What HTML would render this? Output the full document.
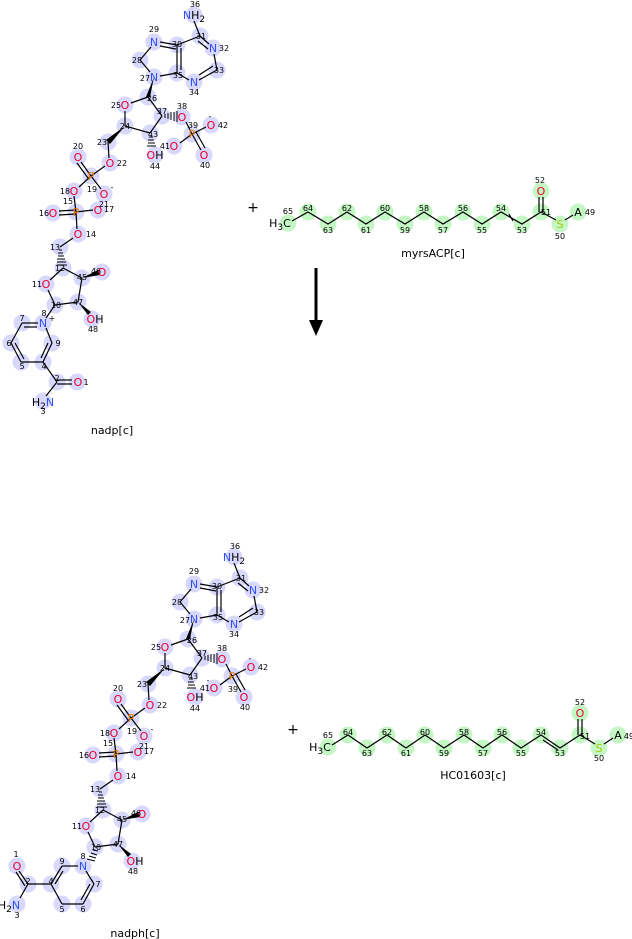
<!DOCTYPE html>
<html><head><meta charset="utf-8"><style>
html,body{margin:0;padding:0;background:#fff}
svg{display:block}
text{font-family:"DejaVu Sans","Liberation Sans",sans-serif}
.n{font-size:8px;fill:#000;text-anchor:middle}
.a{font-size:11px;text-anchor:middle}
.N{fill:#3050f8}.O{fill:#e8002a}.P{fill:#e87800}.S{fill:#a8c800}.C{fill:#000}
.b line,.b polyline{stroke:#000;stroke-width:1.2;fill:none}
.hb circle{fill:#d8d8fc}
.hg circle{fill:#c4f7c4}
.lab{font-size:11px;text-anchor:middle;fill:#000}
</style></head><body>
<svg width="632" height="939" viewBox="0 0 632 939" xmlns="http://www.w3.org/2000/svg">
<defs>
<pattern id="x" width="1" height="1"></pattern>
</defs>

<!-- ===== CORE (top nadp, and translated for nadph) ===== -->
<g id="core1">
<g class="hb">
<circle cx="194" cy="15" r="8.5"/><circle cx="200" cy="36" r="8.5"/><circle cx="213" cy="48" r="8.5"/><circle cx="217" cy="70" r="8.5"/><circle cx="194" cy="82" r="8.5"/><circle cx="177" cy="73" r="8.5"/><circle cx="177" cy="45" r="8.5"/><circle cx="154" cy="42" r="8.5"/><circle cx="140" cy="60" r="8.5"/><circle cx="154" cy="77" r="8.5"/><circle cx="148" cy="97" r="8.5"/><circle cx="125" cy="105" r="8.5"/><circle cx="162" cy="116" r="8.5"/><circle cx="182" cy="117" r="8.5"/><circle cx="192" cy="134" r="8.5"/><circle cx="211" cy="125" r="8.5"/><circle cx="204" cy="155" r="8.5"/><circle cx="174" cy="146" r="8.5"/><circle cx="150" cy="133" r="8.5"/><circle cx="155" cy="155" r="8.5"/><circle cx="125" cy="126" r="8.5"/><circle cx="108" cy="142" r="8.5"/><circle cx="110" cy="163" r="8.5"/><circle cx="91" cy="176" r="8.5"/><circle cx="78" cy="157" r="8.5"/><circle cx="74" cy="191" r="8.5"/><circle cx="104" cy="194" r="8.5"/><circle cx="76" cy="212" r="8.5"/><circle cx="53" cy="213" r="8.5"/><circle cx="98" cy="210" r="8.5"/><circle cx="78" cy="234" r="8.5"/><circle cx="60" cy="247" r="8.5"/><circle cx="63" cy="268" r="8.5"/><circle cx="82" cy="278" r="8.5"/><circle cx="102" cy="272" r="8.5"/><circle cx="46" cy="284" r="8.5"/><circle cx="55" cy="305" r="8.5"/><circle cx="78" cy="302" r="8.5"/><circle cx="92" cy="319" r="8.5"/>
</g>
<g class="b">
<line x1="194" y1="21" x2="200" y2="36"/>
<line x1="200" y1="36" x2="209" y2="44"/><line x1="198" y1="41" x2="208" y2="49"/>
<line x1="214" y1="54" x2="217" y2="70"/>
<line x1="217" y1="70" x2="199" y2="80"/><line x1="213" y1="66" x2="199" y2="75"/>
<line x1="189" y1="80" x2="177" y2="73"/>
<line x1="177" y1="73" x2="177" y2="45"/><line x1="181" y1="70" x2="181" y2="48"/>
<line x1="177" y1="45" x2="200" y2="36"/>
<line x1="177" y1="45" x2="160" y2="42"/><line x1="176" y1="49" x2="160" y2="46"/>
<line x1="151" y1="47" x2="140" y2="60"/>
<line x1="140" y1="60" x2="150" y2="72"/>
<line x1="160" y1="76" x2="177" y2="73"/>
<line x1="148" y1="97" x2="131" y2="103"/>
<line x1="148" y1="97" x2="162" y2="116"/>
<line x1="162" y1="116" x2="150" y2="133"/>
<line x1="150" y1="133" x2="125" y2="126"/>
<line x1="125" y1="126" x2="125" y2="111"/>
<line x1="186" y1="122" x2="192" y2="134"/>
<line x1="192" y1="134" x2="206" y2="127"/>
<line x1="192" y1="134" x2="201" y2="150"/><line x1="196" y1="132" x2="205" y2="148"/>
<line x1="192" y1="134" x2="180" y2="143"/>
<line x1="108" y1="142" x2="109" y2="158"/>
<line x1="105" y1="166" x2="91" y2="176"/>
<line x1="91" y1="176" x2="81" y2="162"/><line x1="88" y1="178" x2="77" y2="163"/>
<line x1="91" y1="176" x2="79" y2="187"/>
<line x1="91" y1="176" x2="101" y2="189"/>
<line x1="74" y1="196" x2="76" y2="212"/>
<line x1="76" y1="210" x2="59" y2="211"/><line x1="76" y1="214" x2="59" y2="215"/>
<line x1="76" y1="212" x2="93" y2="210"/>
<line x1="76" y1="212" x2="77" y2="229"/>
<line x1="73" y1="238" x2="60" y2="247"/>
<line x1="63" y1="268" x2="50" y2="280"/>
<line x1="63" y1="268" x2="82" y2="278"/>
<line x1="82" y1="278" x2="78" y2="302"/>
<line x1="78" y1="302" x2="55" y2="305"/>
<line x1="55" y1="305" x2="48" y2="290"/>
</g>
<!-- wedges -->
<polygon points="154,77 146,97 150,97" fill="#000"/>
<polygon points="125,126 106,140 110,144" fill="#000"/>
<polygon points="82,278 98,270 100,275" fill="#000"/>
<polygon points="78,302 88,315 91,312" fill="#000"/>
<!-- hashes -->
<g stroke="#000" stroke-width="1">
<line x1="165" y1="114" x2="165" y2="118"/><line x1="168" y1="113" x2="168" y2="119"/><line x1="171" y1="112" x2="171" y2="120"/><line x1="174" y1="112" x2="174" y2="121"/><line x1="177" y1="111" x2="177" y2="122"/>
<line x1="149" y1="137" x2="153" y2="137"/><line x1="148" y1="140" x2="154" y2="140"/><line x1="148" y1="143" x2="155" y2="143"/><line x1="147" y1="146" x2="156" y2="146"/>
<line x1="59" y1="250" x2="62" y2="250"/><line x1="58" y1="253" x2="63" y2="253"/><line x1="58" y1="256" x2="64" y2="256"/><line x1="57" y1="259" x2="65" y2="259"/><line x1="57" y1="262" x2="66" y2="262"/><line x1="57" y1="265" x2="67" y2="265"/>
</g>
<!-- atom labels -->
<text class="a N" x="194" y="19">N<tspan fill="#000">H</tspan><tspan fill="#000" font-size="9" dy="3">2</tspan></text>
<text class="a N" x="213" y="52">N</text>
<text class="a N" x="194" y="86">N</text>
<text class="a N" x="154" y="46">N</text>
<text class="a N" x="154" y="81">N</text>
<text class="a O" x="125" y="109">O</text>
<text class="a O" x="182" y="121">O</text>
<text class="a P" x="192" y="138">P</text>
<text class="a O" x="211" y="129">O</text><text class="n" x="210" y="119">-</text>
<text class="a O" x="204" y="159">O</text>
<text class="a O" x="174" y="150">O</text>
<text class="a O" x="155" y="159">O<tspan fill="#000">H</tspan></text>
<text class="a O" x="110" y="167">O</text>
<text class="a P" x="91" y="180">P</text>
<text class="a O" x="78" y="161">O</text>
<text class="a O" x="74" y="195">O</text>
<text class="a O" x="104" y="198">O</text><text class="n" x="112" y="190">-</text>
<text class="a P" x="76" y="216">P</text>
<text class="a O" x="53" y="217">O</text>
<text class="a O" x="98" y="214">O</text>
<text class="a O" x="78" y="238">O</text>
<text class="a O" x="102" y="276">O</text>
<text class="a O" x="46" y="288">O</text>
<text class="a O" x="95" y="323">O<tspan fill="#000">H</tspan></text>
<!-- numbers -->
<g class="n">
<text x="195" y="7">36</text><text x="201" y="39">31</text><text x="224" y="51">32</text><text x="219" y="73">33</text><text x="194" y="95">34</text><text x="178" y="78">35</text><text x="177" y="47">30</text><text x="154" y="32">29</text><text x="137" y="63">28</text><text x="145" y="81">27</text><text x="152" y="101">26</text><text x="116" y="108">25</text><text x="162" y="114">37</text><text x="182" y="109">38</text><text x="193" y="128">39</text><text x="223" y="128">42</text><text x="205" y="168">40</text><text x="165" y="149">41</text><text x="153" y="137">43</text><text x="155" y="169">44</text><text x="125" y="129">24</text><text x="102" y="145">23</text><text x="122" y="166">22</text><text x="78" y="149">20</text><text x="92" y="192">19</text><text x="65" y="194">18</text><text x="104" y="207">21</text><text x="68" y="204">15</text><text x="44" y="216">16</text><text x="109" y="212">17</text><text x="91" y="237">14</text><text x="55" y="250">13</text><text x="60" y="271">12</text><text x="82" y="280">45</text><text x="96" y="274">46</text><text x="37" y="287">11</text><text x="56" y="308">10</text><text x="78" y="305">47</text><text x="93" y="332">48</text>
</g>
</g>

<!-- top pyridinium -->
<g class="hb"><circle cx="22" cy="323" r="8.5"/><circle cx="43" cy="323" r="8.5"/><circle cx="52" cy="343" r="8.5"/><circle cx="43" cy="362" r="8.5"/><circle cx="21" cy="362" r="8.5"/><circle cx="11" cy="343" r="8.5"/><circle cx="57" cy="382" r="8.5"/><circle cx="77" cy="382" r="8.5"/><circle cx="43" cy="401" r="8.5"/></g>
<g class="b">
<line x1="55" y1="305" x2="46" y2="318"/>
<line x1="38" y1="323" x2="22" y2="323"/><line x1="37" y1="327" x2="24" y2="327"/>
<line x1="22" y1="323" x2="11" y2="343"/>
<line x1="11" y1="343" x2="21" y2="362"/><line x1="15" y1="343" x2="24" y2="359"/>
<line x1="21" y1="362" x2="43" y2="362"/>
<line x1="43" y1="362" x2="52" y2="343"/><line x1="41" y1="358" x2="48" y2="343"/>
<line x1="52" y1="343" x2="46" y2="328"/>
<line x1="43" y1="362" x2="57" y2="382"/>
<line x1="57" y1="380" x2="72" y2="380"/><line x1="57" y1="384" x2="72" y2="384"/>
<line x1="57" y1="382" x2="46" y2="396"/>
</g>
<text class="a N" x="43" y="327">N</text><text class="n" x="52" y="321" font-size="11">+</text>
<text class="a O" x="78" y="386">O</text>
<text class="a N" x="43" y="406"><tspan fill="#000">H</tspan><tspan fill="#000" font-size="9" dy="3">2</tspan><tspan dy="-3">N</tspan></text>
<g class="n"><text x="22" y="321">7</text><text x="44" y="316">8</text><text x="58" y="346">9</text><text x="9" y="346">6</text><text x="22" y="369">5</text><text x="44" y="369">4</text><text x="57" y="381">2</text><text x="86" y="385">1</text><text x="43" y="414">3</text></g>
<text class="lab" x="112" y="434">nadp[c]</text>

<!-- ===== bottom nadph core ===== -->
<g transform="translate(40,542)">
<g class="hb">
<circle cx="194" cy="15" r="8.5"/><circle cx="200" cy="36" r="8.5"/><circle cx="213" cy="48" r="8.5"/><circle cx="217" cy="70" r="8.5"/><circle cx="194" cy="82" r="8.5"/><circle cx="177" cy="73" r="8.5"/><circle cx="177" cy="45" r="8.5"/><circle cx="154" cy="42" r="8.5"/><circle cx="140" cy="60" r="8.5"/><circle cx="154" cy="77" r="8.5"/><circle cx="148" cy="97" r="8.5"/><circle cx="125" cy="105" r="8.5"/><circle cx="162" cy="116" r="8.5"/><circle cx="182" cy="117" r="8.5"/><circle cx="192" cy="134" r="8.5"/><circle cx="211" cy="125" r="8.5"/><circle cx="204" cy="155" r="8.5"/><circle cx="174" cy="146" r="8.5"/><circle cx="150" cy="133" r="8.5"/><circle cx="155" cy="155" r="8.5"/><circle cx="125" cy="126" r="8.5"/><circle cx="108" cy="142" r="8.5"/><circle cx="110" cy="163" r="8.5"/><circle cx="91" cy="176" r="8.5"/><circle cx="78" cy="157" r="8.5"/><circle cx="74" cy="191" r="8.5"/><circle cx="104" cy="194" r="8.5"/><circle cx="76" cy="212" r="8.5"/><circle cx="53" cy="213" r="8.5"/><circle cx="98" cy="210" r="8.5"/><circle cx="78" cy="234" r="8.5"/><circle cx="60" cy="247" r="8.5"/><circle cx="63" cy="268" r="8.5"/><circle cx="82" cy="278" r="8.5"/><circle cx="102" cy="272" r="8.5"/><circle cx="46" cy="284" r="8.5"/><circle cx="55" cy="305" r="8.5"/><circle cx="78" cy="302" r="8.5"/><circle cx="92" cy="319" r="8.5"/>
</g>
<g class="b">
<line x1="194" y1="21" x2="200" y2="36"/>
<line x1="200" y1="36" x2="209" y2="44"/><line x1="198" y1="41" x2="208" y2="49"/>
<line x1="214" y1="54" x2="217" y2="70"/>
<line x1="217" y1="70" x2="199" y2="80"/><line x1="213" y1="66" x2="199" y2="75"/>
<line x1="189" y1="80" x2="177" y2="73"/>
<line x1="177" y1="73" x2="177" y2="45"/><line x1="181" y1="70" x2="181" y2="48"/>
<line x1="177" y1="45" x2="200" y2="36"/>
<line x1="177" y1="45" x2="160" y2="42"/><line x1="176" y1="49" x2="160" y2="46"/>
<line x1="151" y1="47" x2="140" y2="60"/>
<line x1="140" y1="60" x2="150" y2="72"/>
<line x1="160" y1="76" x2="177" y2="73"/>
<line x1="148" y1="97" x2="131" y2="103"/>
<line x1="148" y1="97" x2="162" y2="116"/>
<line x1="162" y1="116" x2="150" y2="133"/>
<line x1="150" y1="133" x2="125" y2="126"/>
<line x1="125" y1="126" x2="125" y2="111"/>
<line x1="186" y1="122" x2="192" y2="134"/>
<line x1="192" y1="134" x2="206" y2="127"/>
<line x1="192" y1="134" x2="201" y2="150"/><line x1="196" y1="132" x2="205" y2="148"/>
<line x1="192" y1="134" x2="180" y2="143"/>
<line x1="108" y1="142" x2="109" y2="158"/>
<line x1="105" y1="166" x2="91" y2="176"/>
<line x1="91" y1="176" x2="81" y2="162"/><line x1="88" y1="178" x2="77" y2="163"/>
<line x1="91" y1="176" x2="79" y2="187"/>
<line x1="91" y1="176" x2="101" y2="189"/>
<line x1="74" y1="196" x2="76" y2="212"/>
<line x1="76" y1="210" x2="59" y2="211"/><line x1="76" y1="214" x2="59" y2="215"/>
<line x1="76" y1="212" x2="93" y2="210"/>
<line x1="76" y1="212" x2="77" y2="229"/>
<line x1="73" y1="238" x2="60" y2="247"/>
<line x1="63" y1="268" x2="50" y2="280"/>
<line x1="63" y1="268" x2="82" y2="278"/>
<line x1="82" y1="278" x2="78" y2="302"/>
<line x1="78" y1="302" x2="55" y2="305"/>
<line x1="55" y1="305" x2="48" y2="290"/>
</g>
<polygon points="154,77 146,97 150,97" fill="#000"/>
<polygon points="125,126 106,140 110,144" fill="#000"/>
<polygon points="82,278 98,270 100,275" fill="#000"/>
<polygon points="78,302 88,315 91,312" fill="#000"/>
<g stroke="#000" stroke-width="1">
<line x1="165" y1="114" x2="165" y2="118"/><line x1="168" y1="113" x2="168" y2="119"/><line x1="171" y1="112" x2="171" y2="120"/><line x1="174" y1="112" x2="174" y2="121"/><line x1="177" y1="111" x2="177" y2="122"/>
<line x1="149" y1="137" x2="153" y2="137"/><line x1="148" y1="140" x2="154" y2="140"/><line x1="148" y1="143" x2="155" y2="143"/><line x1="147" y1="146" x2="156" y2="146"/>
<line x1="59" y1="250" x2="62" y2="250"/><line x1="58" y1="253" x2="63" y2="253"/><line x1="58" y1="256" x2="64" y2="256"/><line x1="57" y1="259" x2="65" y2="259"/><line x1="57" y1="262" x2="66" y2="262"/><line x1="57" y1="265" x2="67" y2="265"/>
</g>
<text class="a N" x="194" y="19">N<tspan fill="#000">H</tspan><tspan fill="#000" font-size="9" dy="3">2</tspan></text>
<text class="a N" x="213" y="52">N</text>
<text class="a N" x="194" y="86">N</text>
<text class="a N" x="154" y="46">N</text>
<text class="a N" x="154" y="81">N</text>
<text class="a O" x="125" y="109">O</text>
<text class="a O" x="182" y="121">O</text>
<text class="a P" x="192" y="138">P</text>
<text class="a O" x="211" y="129">O</text><text class="n" x="210" y="119">-</text>
<text class="a O" x="204" y="159">O</text>
<text class="a O" x="174" y="150">O</text><text class="n" x="168" y="141">-</text>
<text class="a O" x="155" y="159">O<tspan fill="#000">H</tspan></text>
<text class="a O" x="110" y="167">O</text>
<text class="a P" x="91" y="180">P</text>
<text class="a O" x="78" y="161">O</text>
<text class="a O" x="74" y="195">O</text>
<text class="a O" x="104" y="198">O</text><text class="n" x="112" y="190">-</text>
<text class="a P" x="76" y="216">P</text>
<text class="a O" x="53" y="217">O</text>
<text class="a O" x="98" y="214">O</text>
<text class="a O" x="78" y="238">O</text>
<text class="a O" x="102" y="276">O</text>
<text class="a O" x="46" y="288">O</text>
<text class="a O" x="95" y="323">O<tspan fill="#000">H</tspan></text>
<g class="n">
<text x="195" y="7">36</text><text x="201" y="39">31</text><text x="224" y="51">32</text><text x="219" y="73">33</text><text x="194" y="95">34</text><text x="178" y="78">35</text><text x="177" y="47">30</text><text x="154" y="32">29</text><text x="137" y="63">28</text><text x="145" y="81">27</text><text x="152" y="101">26</text><text x="116" y="108">25</text><text x="162" y="114">37</text><text x="182" y="109">38</text><text x="193" y="150">39</text><text x="223" y="128">42</text><text x="205" y="168">40</text><text x="165" y="149">41</text><text x="153" y="137">43</text><text x="155" y="169">44</text><text x="125" y="129">24</text><text x="102" y="145">23</text><text x="122" y="166">22</text><text x="78" y="149">20</text><text x="92" y="192">19</text><text x="65" y="194">18</text><text x="104" y="207">21</text><text x="68" y="204">15</text><text x="44" y="216">16</text><text x="109" y="212">17</text><text x="91" y="237">14</text><text x="55" y="250">13</text><text x="60" y="271">12</text><text x="82" y="280">45</text><text x="96" y="274">46</text><text x="37" y="287">11</text><text x="56" y="308">10</text><text x="78" y="305">47</text><text x="93" y="332">48</text>
</g>
</g>

<!-- bottom dihydropyridine -->
<g class="hb"><circle cx="62" cy="866" r="8.5"/><circle cx="83" cy="866" r="8.5"/><circle cx="94" cy="884" r="8.5"/><circle cx="83" cy="904" r="8.5"/><circle cx="62" cy="904" r="8.5"/><circle cx="51" cy="884" r="8.5"/><circle cx="28" cy="884" r="8.5"/><circle cx="17" cy="866" r="8.5"/><circle cx="17" cy="904" r="8.5"/></g>
<g class="b">
<line x1="78" y1="866" x2="62" y2="866"/>
<line x1="62" y1="866" x2="51" y2="884"/><line x1="63" y1="871" x2="55" y2="884"/>
<line x1="51" y1="884" x2="62" y2="904"/>
<line x1="62" y1="904" x2="83" y2="904"/>
<line x1="83" y1="904" x2="94" y2="884"/><line x1="81" y1="900" x2="90" y2="884"/>
<line x1="94" y1="884" x2="86" y2="871"/>
<line x1="51" y1="884" x2="28" y2="884"/>
<line x1="28" y1="884" x2="19" y2="871"/><line x1="25" y1="886" x2="16" y2="872"/>
<line x1="28" y1="884" x2="20" y2="898"/>
</g>
<g stroke="#000" stroke-width="1">
<line x1="93" y1="850" x2="98" y2="851"/><line x1="91" y1="853" x2="97" y2="855"/><line x1="89" y1="856" x2="96" y2="858"/><line x1="87" y1="859" x2="95" y2="861"/>
</g>
<text class="a N" x="83" y="870">N</text>
<text class="a O" x="17" y="870">O</text>
<text class="a N" x="17" y="909"><tspan fill="#000" dx="-8">H</tspan><tspan fill="#000" font-size="9" dy="3">2</tspan><tspan dy="-3">N</tspan></text>
<g class="n"><text x="62" y="864">9</text><text x="83" y="859">8</text><text x="98" y="887">7</text><text x="83" y="912">6</text><text x="62" y="912">5</text><text x="51" y="884">4</text><text x="28" y="884">2</text><text x="16" y="857">1</text><text x="17" y="918">3</text></g>
<text class="lab" x="135" y="937">nadph[c]</text>

<!-- ===== myrsACP ===== -->
<g class="hg"><circle cx="288" cy="223" r="8.5"/><circle cx="308" cy="212" r="8.5"/><circle cx="328" cy="224" r="8.5"/><circle cx="347" cy="212" r="8.5"/><circle cx="366" cy="224" r="8.5"/><circle cx="385" cy="212" r="8.5"/><circle cx="405" cy="224" r="8.5"/><circle cx="424" cy="212" r="8.5"/><circle cx="443" cy="224" r="8.5"/><circle cx="463" cy="212" r="8.5"/><circle cx="482" cy="224" r="8.5"/><circle cx="501" cy="212" r="8.5"/><circle cx="522" cy="224" r="8.5"/><circle cx="541" cy="212" r="8.5"/><circle cx="541" cy="191" r="8.5"/><circle cx="560" cy="224" r="8.5"/><circle cx="578" cy="212" r="8.5"/></g>
<g class="b"><polyline points="292,221 308,212 328,224 347,212 366,224 385,212 405,224 424,212 443,224 463,212 482,224 501,212 522,224 541,212 556,220"/>
<line x1="565" y1="220" x2="573" y2="215"/>
<line x1="539" y1="212" x2="539" y2="197"/><line x1="543" y1="212" x2="543" y2="197"/>
<line x1="509" y1="214" x2="513" y2="221"/></g>
<text class="a C" x="280" y="227">H<tspan font-size="9" dy="3">3</tspan><tspan dy="-3">C</tspan></text>
<text class="a O" x="541" y="195">O</text>
<text class="a S" x="560" y="228">S</text>
<text class="a C" x="578" y="216">A</text>
<g class="n"><text x="288" y="214">65</text><text x="308" y="211">64</text><text x="328" y="233">63</text><text x="347" y="211">62</text><text x="366" y="233">61</text><text x="385" y="211">60</text><text x="405" y="233">59</text><text x="424" y="211">58</text><text x="443" y="233">57</text><text x="463" y="211">56</text><text x="482" y="233">55</text><text x="501" y="211">54</text><text x="522" y="233">53</text><text x="546" y="215">51</text><text x="540" y="183">52</text><text x="560" y="239">50</text><text x="590" y="215">49</text></g>
<text class="lab" x="433" y="257">myrsACP[c]</text>

<!-- ===== HC01603 ===== -->
<g class="hg"><circle cx="328" cy="747" r="8.5"/><circle cx="348" cy="735" r="8.5"/><circle cx="367" cy="748" r="8.5"/><circle cx="387" cy="735" r="8.5"/><circle cx="406" cy="748" r="8.5"/><circle cx="425" cy="735" r="8.5"/><circle cx="444" cy="748" r="8.5"/><circle cx="464" cy="735" r="8.5"/><circle cx="483" cy="748" r="8.5"/><circle cx="502" cy="735" r="8.5"/><circle cx="521" cy="748" r="8.5"/><circle cx="541" cy="735" r="8.5"/><circle cx="560" cy="748" r="8.5"/><circle cx="580" cy="735" r="8.5"/><circle cx="580" cy="713" r="8.5"/><circle cx="599" cy="748" r="8.5"/><circle cx="618" cy="735" r="8.5"/></g>
<g class="b"><polyline points="332,745 348,735 367,748 387,735 406,748 425,735 444,748 464,735 483,748 502,735 521,748 541,735 560,748 580,735 595,744"/>
<line x1="604" y1="744" x2="613" y2="738"/>
<line x1="578" y1="735" x2="578" y2="719"/><line x1="582" y1="735" x2="582" y2="719"/>
<line x1="543" y1="740" x2="558" y2="750"/></g>
<text class="a C" x="320" y="751">H<tspan font-size="9" dy="3">3</tspan><tspan dy="-3">C</tspan></text>
<text class="a O" x="580" y="717">O</text>
<text class="a S" x="599" y="752">S</text>
<text class="a C" x="618" y="739">A</text>
<g class="n"><text x="328" y="738">65</text><text x="348" y="735">64</text><text x="367" y="756">63</text><text x="387" y="735">62</text><text x="406" y="756">61</text><text x="425" y="735">60</text><text x="444" y="756">59</text><text x="464" y="735">58</text><text x="483" y="756">57</text><text x="502" y="735">56</text><text x="521" y="756">55</text><text x="541" y="735">54</text><text x="560" y="756">53</text><text x="585" y="739">51</text><text x="580" y="705">52</text><text x="599" y="761">50</text><text x="629" y="739">49</text></g>
<text class="lab" x="473" y="779">HC01603[c]</text>

<!-- plus & arrow -->
<text x="253" y="212" font-size="14" text-anchor="middle" fill="#000">+</text>
<text x="293" y="734" font-size="14" text-anchor="middle" fill="#000">+</text>
<line x1="316" y1="268" x2="316" y2="322" stroke="#000" stroke-width="3"/>
<polygon points="309,320 323,320 316,336" fill="#000"/>
</svg>
</body></html>
